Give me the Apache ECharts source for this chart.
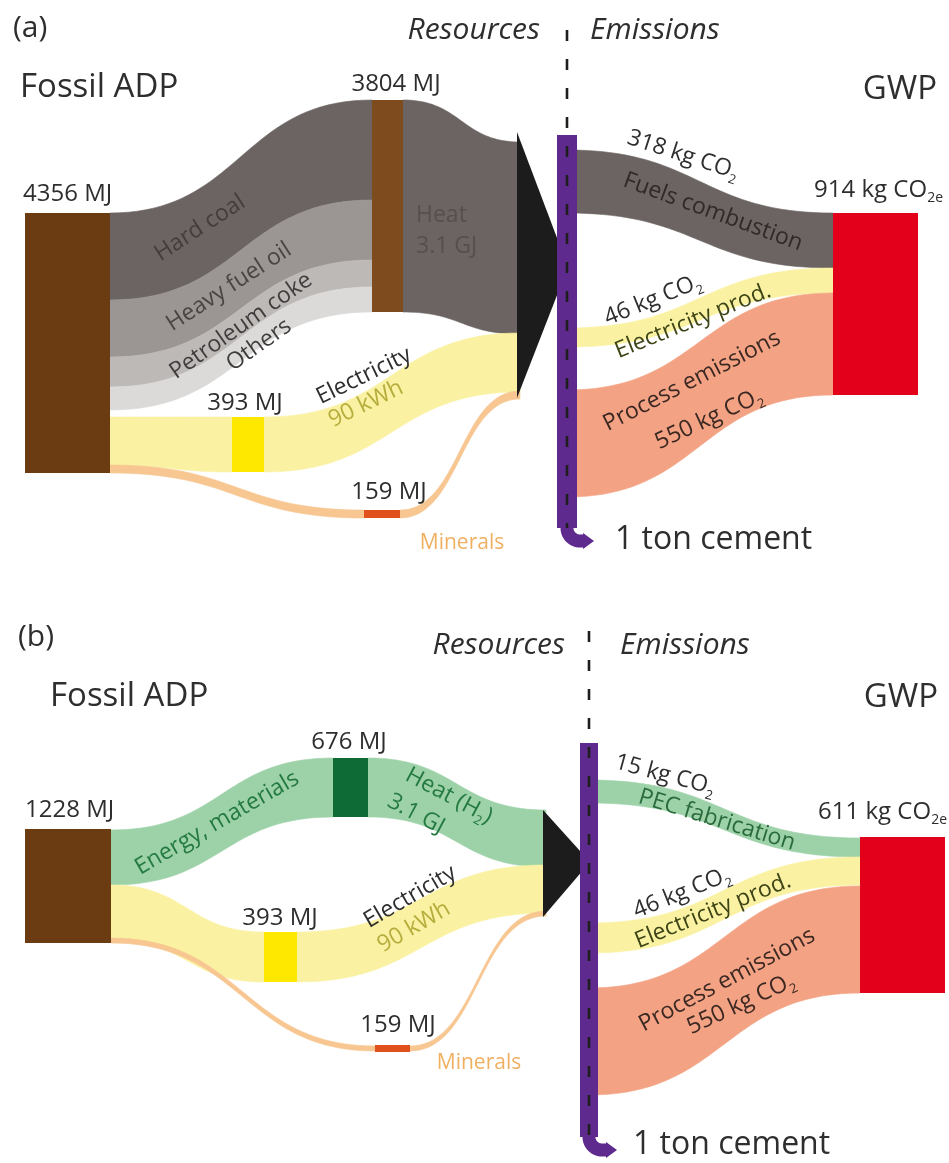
<!DOCTYPE html>
<html>
<head>
<meta charset="utf-8">
<script src="https://cdn.jsdelivr.net/npm/echarts@6/dist/echarts.min.js"></script>
<style>
  html, body { margin: 0; padding: 0; background: #ffffff; }
  #chart { width: 949px; height: 1163px; }
</style>
</head>
<body>
<div id="chart"></div>
<script>
// ---------- values shown in the two flow diagrams ----------
const panelTags      = ['(a)', '(b)'];
const fossilMJ       = [4356, 1228];      // Fossil ADP totals
const midNodeMJ      = [3804, 676];       // fuels node (a) / PEC energy & materials node (b)
const electricityMJ  = [393, 393];
const mineralsMJ     = [159, 159];
const heatGJ         = [3.1, 3.1];
const electricityKWh = [90, 90];
const fuelMixA       = ['Hard coal', 'Heavy fuel oil', 'Petroleum coke', 'Others'];
const emissionNamesA = ['Fuels combustion', 'Electricity prod.', 'Process emissions'];
const emissionNamesB = ['PEC fabrication', 'Electricity prod.', 'Process emissions'];
const emissionsA     = [318, 46, 550];    // kg CO2
const emissionsB     = [15, 46, 550];     // kg CO2
const gwpTotal       = [914, 611];        // kg CO2e

// ---------- styling ----------
const FONT = '"Open Sans", "Noto Sans", "DejaVu Sans", sans-serif';
const C = {
  text: '#2e2e2e',
  fossil: '#6b3b12', fuelNode: '#7d4b1d', pecNode: '#0f6b35',
  coal: '#6b6462', hfo: '#9b9593', petcoke: '#bdb9b7', others: '#dcdad9',
  heat: '#6b6462', green: '#9dd2a9',
  elecBand: '#faf2a2', elecNode: '#ffe800',
  minerals: '#f7c691', mineralNode: '#e0511e',
  process: '#f3a384', gwp: '#e2001a', purple: '#5f2a8e', arrow: '#1c1c1c'
};

// ---------- layout of each diagram (panel units: x 0–949 right, y 0–580 down) ----------
const layoutA = {
  rects: [
    { x0: 25,  x1: 110, y0: 213, y1: 473, color: C.fossil },
    { x0: 372, x1: 403, y0: 100, y1: 312, color: C.fuelNode },
    { x0: 232, x1: 264, y0: 417, y1: 472, color: C.elecNode },
    { x0: 364, x1: 400, y0: 510, y1: 518, color: C.mineralNode },
    { x0: 833, x1: 918, y0: 213, y1: 395, color: C.gwp }
  ],
  bands: [
    { color: C.coal,    segs: [[[110, 213, 300], [372, 100, 200]]] },
    { color: C.hfo,     segs: [[[110, 300, 357], [372, 200, 260]]] },
    { color: C.petcoke, segs: [[[110, 357, 387], [372, 260, 287]]] },
    { color: C.others,  segs: [[[110, 387, 410], [372, 287, 312]]] },
    { color: C.heat,    segs: [[[403, 100, 312], [520, 142, 334]]] },
    { color: C.elecBand, segs: [[[110, 417, 465], [232, 417, 472]], [[264, 417, 472], [520, 333, 392]]] },
    { color: C.minerals, segs: [[[110, 465, 473], [364, 510, 518]], [[400, 510, 518], [520, 391, 399]]] },
    { color: C.heat,     segs: [[[567, 150, 213], [833, 213, 268]]] },
    { color: C.elecBand, segs: [[[567, 328, 347], [833, 268, 293]]] },
    { color: C.process,  segs: [[[567, 390, 497], [833, 293, 395]]] }
  ],
  triangle: [[517, 132], [568, 267], [517, 398]],
  bar: { cx: 567, w: 20, top: 135, bottom: 541, r: 13, tip: 594 },
  dash: { x: 567, y0: 30, y1: 528 }
};

const layoutB = {
  rects: [
    { x0: 25,  x1: 111, y0: 246, y1: 360, color: C.fossil },
    { x0: 333, x1: 368, y0: 175, y1: 234, color: C.pecNode },
    { x0: 264, x1: 297, y0: 349, y1: 399, color: C.elecNode },
    { x0: 375, x1: 410, y0: 462, y1: 469, color: C.mineralNode },
    { x0: 860, x1: 945, y0: 254, y1: 410, color: C.gwp }
  ],
  bands: [
    { color: C.green,    segs: [[[111, 247, 302], [333, 175, 234]], [[368, 175, 234], [546, 227, 284]]] },
    { color: C.elecBand, segs: [[[111, 302, 357], [264, 349, 399]], [[297, 349, 399], [546, 282, 330]]] },
    { color: C.minerals, segs: [[[111, 355, 360], [375, 463, 468]], [[410, 463, 468], [546, 328, 333]]] },
    { color: C.green,    segs: [[[589, 197, 220], [860, 255, 274]]] },
    { color: C.elecBand, segs: [[[589, 340, 370], [860, 274, 302]]] },
    { color: C.process,  segs: [[[589, 405, 512], [860, 303, 410]]] }
  ],
  triangle: [[543, 227], [590, 279], [543, 334]],
  bar: { cx: 589, w: 18, top: 160, bottom: 567, r: 13, tip: 617 },
  dash: { x: 589, y0: 48, y1: 552 }
};

const CO2 = 'CO{s|2}';
const CO2e = 'CO{s|2e}';

function textsA() {
  return [
    { t: panelTags[0], x: 13, y: 28, s: 30, a: 'left' },
    { t: 'Resources', x: 540, y: 30, s: 30, a: 'right', it: true },
    { t: 'Emissions', x: 590, y: 30, s: 30, a: 'left', it: true },
    { t: 'Fossil ADP', x: 20, y: 88, s: 33, a: 'left' },
    { t: 'GWP', x: 937, y: 90, s: 33, a: 'right' },
    { t: fossilMJ[0] + ' MJ', x: 23, y: 194, s: 24, a: 'left' },
    { t: midNodeMJ[0] + ' MJ', x: 396, y: 84, s: 24 },
    { t: fuelMixA[0], x: 200, y: 228, s: 23, r: 33, c: '#433d3c' },
    { t: fuelMixA[1], x: 229, y: 287, s: 23, r: 33, c: '#4a4545' },
    { t: fuelMixA[2], x: 241, y: 326, s: 23, r: 35, c: '#3e3c3c' },
    { t: fuelMixA[3], x: 259, y: 345, s: 23, r: 35, c: '#3e3c3c' },
    { t: 'Heat', x: 416, y: 215, s: 23, a: 'left', c: '#564f4d' },
    { t: heatGJ[0] + ' GJ', x: 416, y: 246, s: 23, a: 'left', c: '#564f4d' },
    { t: electricityMJ[0] + ' MJ', x: 245, y: 403, s: 24 },
    { t: 'Electricity', x: 364, y: 376, s: 23, r: 26 },
    { t: electricityKWh[0] + ' kWh', x: 366, y: 404, s: 23, r: 26, c: '#b6ad3d' },
    { t: mineralsMJ[0] + ' MJ', x: 389, y: 492, s: 24 },
    { t: 'Minerals', x: 462, y: 543, s: 21, c: '#f0b062' },
    { t: emissionsA[0] + ' kg ' + CO2, x: 683, y: 155, s: 23, r: -18 },
    { t: emissionNamesA[0], x: 713, y: 212, s: 23, r: -20, c: '#2f2a29' },
    { t: gwpTotal[0] + ' kg ' + CO2e, x: 943, y: 190, s: 24, a: 'right' },
    { t: emissionsA[1] + ' kg ' + CO2, x: 653, y: 300, s: 23, r: 22 },
    { t: emissionNamesA[1], x: 693, y: 321, s: 23, r: 22, c: '#3d4416' },
    { t: emissionNamesA[2], x: 692, y: 381, s: 23, r: 27, c: '#3b2822' },
    { t: emissionsA[2] + ' kg ' + CO2, x: 709, y: 419, s: 23, r: 25, c: '#3b2822' },
    { t: '1 ton cement', x: 615, y: 540, s: 32, a: 'left' }
  ];
}

function textsB() {
  return [
    { t: panelTags[1], x: 18, y: 54, s: 30, a: 'left' },
    { t: 'Resources', x: 565, y: 62, s: 30, a: 'right', it: true },
    { t: 'Emissions', x: 620, y: 62, s: 30, a: 'left', it: true },
    { t: 'Fossil ADP', x: 50, y: 114, s: 33, a: 'left' },
    { t: 'GWP', x: 938, y: 115, s: 33, a: 'right' },
    { t: fossilMJ[1] + ' MJ', x: 25, y: 227, s: 24, a: 'left' },
    { t: midNodeMJ[1] + ' MJ', x: 349, y: 159, s: 24 },
    { t: 'Energy, materials', x: 217, y: 240, s: 23, r: 30, c: '#247a40' },
    { t: 'Heat (H{g|2})', x: 449, y: 213, s: 23, r: -28, c: '#247a40' },
    { t: heatGJ[1] + ' GJ', x: 416, y: 231, s: 23, r: -28, c: '#247a40' },
    { t: electricityMJ[1] + ' MJ', x: 280, y: 335, s: 24 },
    { t: 'Electricity', x: 410, y: 314, s: 23, r: 30 },
    { t: electricityKWh[1] + ' kWh', x: 414, y: 344, s: 23, r: 30, c: '#b6ad3d' },
    { t: mineralsMJ[1] + ' MJ', x: 398, y: 442, s: 24 },
    { t: 'Minerals', x: 479, y: 480, s: 21, c: '#f0b062' },
    { t: emissionsB[0] + ' kg ' + CO2, x: 665, y: 192, s: 23, r: -15 },
    { t: emissionNamesB[0], x: 717, y: 237, s: 23, r: -17, c: '#2a6b3c' },
    { t: gwpTotal[1] + ' kg ' + CO2e, x: 947, y: 229, s: 24, a: 'right' },
    { t: emissionsB[1] + ' kg ' + CO2, x: 682, y: 310, s: 23, r: 22 },
    { t: emissionNamesB[1], x: 713, y: 328, s: 23, r: 22, c: '#3d4416' },
    { t: emissionNamesB[2], x: 727, y: 397, s: 23, r: 28, c: '#3b2822' },
    { t: emissionsB[2] + ' kg ' + CO2, x: 741, y: 421, s: 23, r: 25, c: '#3b2822' },
    { t: '1 ton cement', x: 633, y: 562, s: 32, a: 'left' }
  ];
}

// ---------- drawing helpers ----------
// S-shaped cubic (horizontal tangents at both ends) sampled in panel units
function sCurve(xa, ya, xb, yb, n) {
  const m = (xa + xb) / 2, pts = [];
  for (let i = 0; i <= n; i++) {
    const t = i / n, u = 1 - t;
    const x = u * u * u * xa + 3 * u * u * t * m + 3 * u * t * t * m + t * t * t * xb;
    const y = (u * u * u + 3 * u * u * t) * ya + (3 * u * t * t + t * t * t) * yb;
    pts.push([x, y]);
  }
  return pts;
}

function bandRenderer(layout) {
  return function (params, api) {
    const band = layout.bands[params.dataIndex];
    const children = band.segs.map(function (seg) {
      const p = seg[0], q = seg[1];
      const top = sCurve(p[0], p[1], q[0], q[1], 40);
      const bot = sCurve(p[0], p[2], q[0], q[2], 40).reverse();
      return {
        type: 'polygon',
        shape: { points: top.concat(bot).map(function (pt) { return api.coord(pt); }) },
        style: { fill: band.color, stroke: band.color, lineWidth: 0.6 }
      };
    });
    return { type: 'group', children: children };
  };
}

function rectRenderer(layout) {
  return function (params, api) {
    const r = layout.rects[params.dataIndex];
    const a = api.coord([r.x0, r.y0]), b = api.coord([r.x1, r.y1]);
    return {
      type: 'rect',
      shape: { x: a[0], y: a[1], width: b[0] - a[0], height: b[1] - a[1] },
      style: { fill: r.color }
    };
  };
}

function shapeRenderer(layout) {
  return function (params, api) {
    const bar = layout.bar, d = layout.dash;
    const tri = layout.triangle.map(function (p) { return api.coord(p); });
    const tl = api.coord([bar.cx - bar.w / 2, bar.top]);
    const br = api.coord([bar.cx + bar.w / 2, bar.bottom - bar.r]);
    // hook at the foot of the product bar
    const hook = [];
    for (let i = 0; i <= 16; i++) {
      const th = Math.PI - (Math.PI / 2) * (i / 16);
      hook.push(api.coord([bar.cx + bar.r + bar.r * Math.cos(th), bar.bottom - bar.r + bar.r * Math.sin(th)]));
    }
    hook.unshift(api.coord([bar.cx, bar.bottom - bar.r - 2]));
    hook.push(api.coord([bar.tip - 9, bar.bottom]));
    const head = [
      api.coord([bar.tip - 11, bar.bottom - 8]),
      api.coord([bar.tip, bar.bottom]),
      api.coord([bar.tip - 11, bar.bottom + 8])
    ];
    const d0 = api.coord([d.x, d.y0]), d1 = api.coord([d.x, d.y1]);
    return {
      type: 'group',
      children: [
        { type: 'polygon', shape: { points: tri }, style: { fill: C.arrow } },
        { type: 'rect', shape: { x: tl[0], y: tl[1], width: br[0] - tl[0], height: br[1] - tl[1] }, style: { fill: C.purple } },
        { type: 'polyline', shape: { points: hook }, style: { stroke: C.purple, lineWidth: 13, fill: null } },
        { type: 'polygon', shape: { points: head }, style: { fill: C.purple } },
        { type: 'line', shape: { x1: d0[0], y1: d0[1], x2: d1[0], y2: d1[1] },
          style: { stroke: '#1e1e1e', lineWidth: 2.6, lineDash: [11, 18] } }
      ]
    };
  };
}

function textRenderer(list) {
  return function (params, api) {
    const o = list[params.dataIndex];
    const p = api.coord([o.x, o.y]);
    const col = o.c || C.text;
    const sub = Math.round(o.s * 0.58);
    return {
      type: 'text',
      x: p[0], y: p[1],
      rotation: (o.r || 0) * Math.PI / 180,
      style: {
        text: o.t,
        fill: col,
        fontSize: o.s,
        fontFamily: FONT,
        fontStyle: o.it ? 'italic' : 'normal',
        lineHeight: Math.round(o.s * 1.3),
        align: o.a || 'center',
        verticalAlign: 'middle',
        rich: {
          s: { fontSize: sub, fontFamily: FONT, fill: col, lineHeight: Math.round(o.s * 1.3), verticalAlign: 'bottom' },
          g: { fontSize: sub, fontFamily: FONT, fill: col, lineHeight: Math.round(o.s * 1.3), verticalAlign: 'bottom' }
        }
      }
    };
  };
}

function panelSeries(layout, texts, idx) {
  const common = { type: 'custom', xAxisIndex: idx, yAxisIndex: idx, silent: true, animation: false, clip: false };
  return [
    Object.assign({ name: 'flows', z: 1, renderItem: bandRenderer(layout), data: layout.bands.map(function (b, i) { return [i, 0]; }) }, common),
    Object.assign({ name: 'nodes', z: 2, renderItem: rectRenderer(layout), data: layout.rects.map(function (r, i) { return [i, 0]; }) }, common),
    Object.assign({ name: 'product', z: 3, renderItem: shapeRenderer(layout), data: [[0, 0]] }, common),
    Object.assign({ name: 'labels', z: 4, renderItem: textRenderer(texts), data: texts.map(function (t, i) { return [i, 0]; }) }, common)
  ];
}

const chart = echarts.init(document.getElementById('chart'), null, { renderer: 'canvas' });
const axisX = function (i) { return { type: 'value', gridIndex: i, min: 0, max: 949, show: false }; };
const axisY = function (i) { return { type: 'value', gridIndex: i, min: 0, max: 580, inverse: true, show: false }; };

chart.setOption({
  backgroundColor: '#ffffff',
  animation: false,
  grid: [
    { left: 0, top: 0, width: 949, height: 580 },
    { left: 0, top: 583, width: 949, height: 580 }
  ],
  xAxis: [axisX(0), axisX(1)],
  yAxis: [axisY(0), axisY(1)],
  series: panelSeries(layoutA, textsA(), 0).concat(panelSeries(layoutB, textsB(), 1))
});
</script>
</body>
</html>
